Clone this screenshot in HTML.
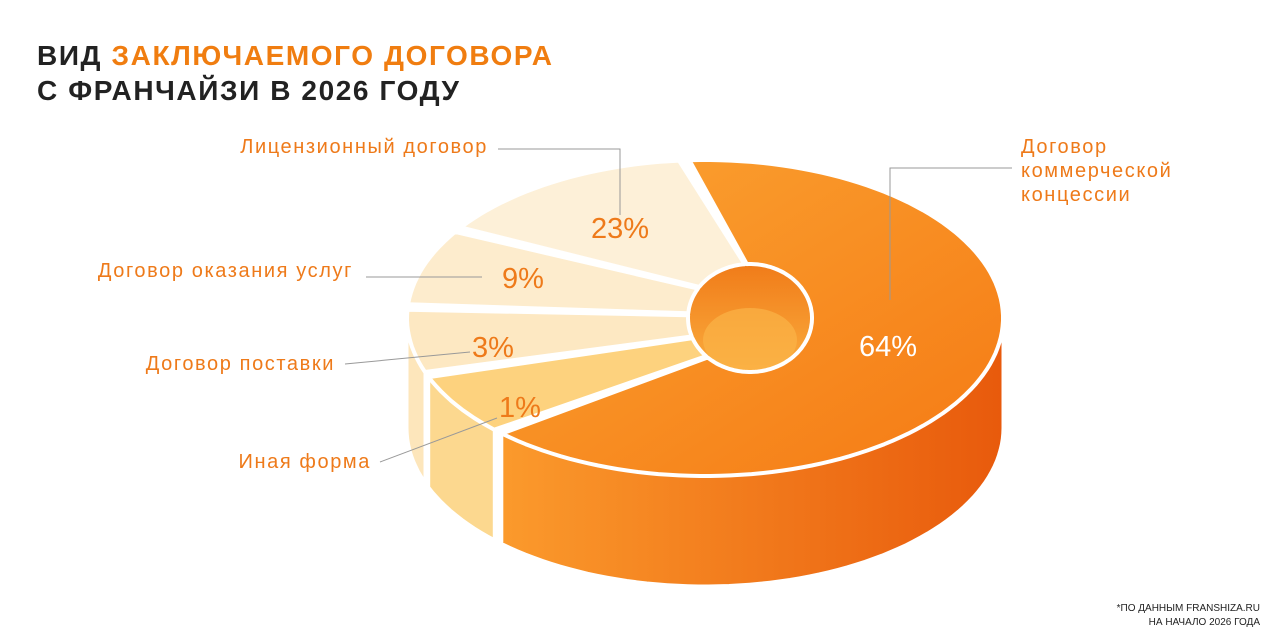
<!DOCTYPE html>
<html><head><meta charset="utf-8">
<style>
html,body{margin:0;padding:0;background:#fff;}
body{width:1280px;height:640px;position:relative;overflow:hidden;font-family:"Liberation Sans",sans-serif;}
.t{position:absolute;left:37px;font-weight:bold;font-size:28px;color:#222;letter-spacing:1.6px;line-height:34px;}
.o{color:#f07d10;}
.lab{position:absolute;color:#ee7a1a;font-size:20px;white-space:nowrap;letter-spacing:1.6px;}
.foot{position:absolute;right:20px;top:602px;font-size:10px;color:#222;text-align:right;line-height:14px;}
</style></head><body>
<div class="t" style="top:39px">ВИД <span class="o">ЗАКЛЮЧАЕМОГО ДОГОВОРА</span></div>
<div class="t" style="top:74px">С ФРАНЧАЙЗИ В 2026 ГОДУ</div>
<svg id="s" width="1280" height="640" style="position:absolute;left:0;top:0">
<defs>
<linearGradient id="gTop" x1="0" y1="0" x2="1" y2="1"><stop offset="0" stop-color="#fba332"/><stop offset="1" stop-color="#f57a14"/></linearGradient>
<linearGradient id="gSide" x1="0" y1="0" x2="1" y2="0"><stop offset="0" stop-color="#fb9a2c"/><stop offset="1" stop-color="#e85a0c"/></linearGradient>
<linearGradient id="gHole" x1="0" y1="0" x2="0" y2="1"><stop offset="0" stop-color="#f07a18"/><stop offset="1" stop-color="#fbb040"/></linearGradient>
</defs>
</svg>
<div class="lab" style="right:792px;top:136px">Лицензионный договор</div>
<div class="lab" style="right:927px;top:260px">Договор оказания услуг</div>
<div class="lab" style="right:945px;top:353px">Договор поставки</div>
<div class="lab" style="right:909px;top:451px">Иная форма</div>
<div class="lab" style="left:1021px;top:135px;line-height:24px">Договор<br>коммерческой<br>концессии</div>
<div class="foot">*ПО ДАННЫМ FRANSHIZA.RU<br>НА НАЧАЛО 2026 ГОДА</div>
<script>
var s=document.getElementById('s'),NS='http://www.w3.org/2000/svg';
var cx=705,cy=318,rx=298,ry=158,irx=62,iry=54,h=110,ix=45;
function P(a,r1,r2,dy){a=a*Math.PI/180;return [cx+r1*Math.cos(a),cy+dy+r2*Math.sin(a)];}
function el(t,at){var e=document.createElementNS(NS,t);for(var k in at)e.setAttribute(k,at[k]);s.appendChild(e);return e;}
function arc(a1,a2,r1,r2,dy){var pts=[];var n=Math.max(2,Math.ceil(Math.abs(a2-a1)/2));for(var i=0;i<=n;i++){pts.push(P(a1+(a2-a1)*i/n,r1,r2,dy));}return pts;}
var segs=[
 {a1:-93,a2:133,top:'url(#gTop)',side:'url(#gSide)'},
 {a1:135,a2:158,top:'#fdd27e',side:'#fcd88f'},
 {a1:160,a2:183,top:'#fde8c2',side:'#fde6bb'},
 {a1:185,a2:213,top:'#fdeccd',side:'#fde9c4'},
 {a1:215,a2:265,top:'#fdf0d8',side:'#fdebcb'}
];
el('ellipse',{cx:cx+ix,cy:cy+2,rx:irx+5,ry:iry+5,fill:'url(#gHole)'});
el('ellipse',{cx:cx+ix,cy:cy+22,rx:irx-15,ry:iry-22,fill:'#fbb447',opacity:0.7});
segs.forEach(function(g){
 var b1=Math.max(g.a1,0),b2=Math.min(g.a2,180);
 if(b2>b1){var top=arc(b1,b2,rx,ry,0),bot=arc(b2,b1,rx,ry,h);
  el('path',{d:'M'+top.concat(bot).map(function(p){return p[0].toFixed(1)+','+p[1].toFixed(1)}).join('L')+'Z',fill:g.side,stroke:'#fff','stroke-width':3});}
});
segs.forEach(function(g){
 var o=arc(g.a1,g.a2,rx,ry,0),i=arc(g.a2,g.a1,irx,iry,0).map(function(p){return [p[0]+ix,p[1]];});
 el('path',{d:'M'+o.concat(i).map(function(p){return p[0].toFixed(1)+','+p[1].toFixed(1)}).join('L')+'Z',fill:g.top,stroke:'#fff','stroke-width':4,'stroke-linejoin':'round'});
});
[[498,149,620,149,620,215],[366,277,482,277],[345,364,470,352],[380,462,497,418],[1012,168,890,168,890,300]].forEach(function(l){
 var d='M'+l[0]+','+l[1];for(var k=2;k<l.length;k+=2)d+='L'+l[k]+','+l[k+1];
 el('path',{d:d,fill:'none',stroke:'#999','stroke-width':1});
});
[['64%',888,356,'#fff'],['23%',620,238,'#ee7a1a'],['9%',523,288,'#ee7a1a'],['3%',493,357,'#ee7a1a'],['1%',520,417,'#ee7a1a']].forEach(function(t){
 var e=el('text',{x:t[1],y:t[2],fill:t[3],'font-size':29,'text-anchor':'middle','font-family':'Liberation Sans, sans-serif'});e.textContent=t[0];
});
</script>
</body></html>
